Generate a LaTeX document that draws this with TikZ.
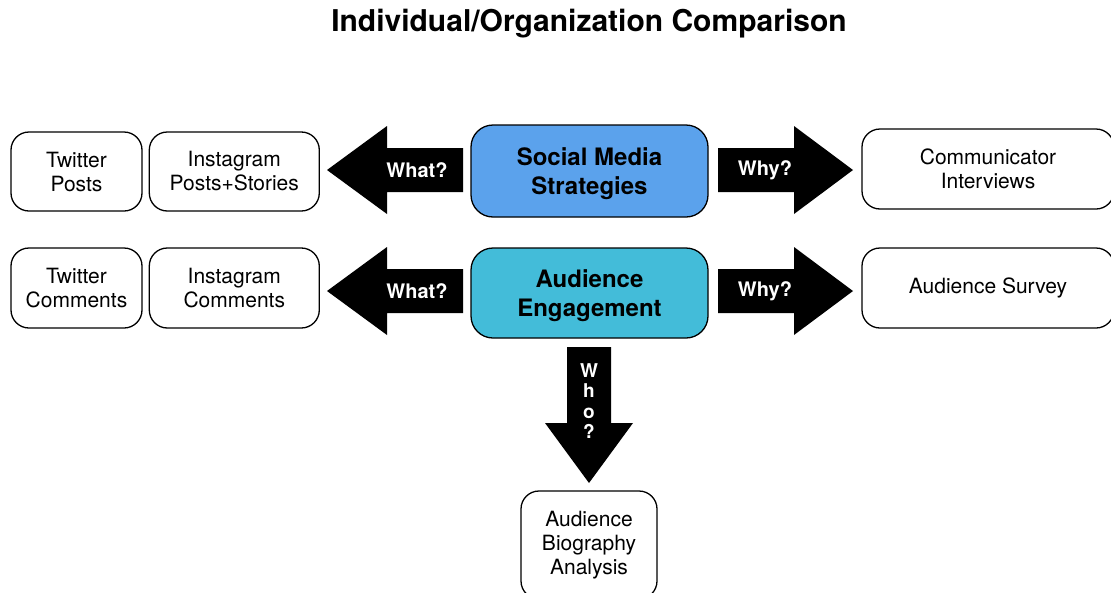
\documentclass[tikz,border=0pt]{standalone}
\usepackage{fontspec}
\setmainfont{TeX Gyre Heros}
\usetikzlibrary{positioning}
\definecolor{strategyblue}{RGB}{91,162,236}
\definecolor{engagecyan}{RGB}{67,188,217}
\tikzset{
    source/.style = {rectangle, rounded corners=18pt, draw, line width=1.3pt, align=center, inner sep=0pt, font=\fontsize{21}{24}\selectfont},
    hub/.style = {source, rounded corners=22pt, minimum width=237pt, text height=53pt, font=\fontsize{24}{29}\selectfont\bfseries},
    question/.style = {text=white, inner sep=0pt, font=\fontsize{20}{21}\selectfont\bfseries},
    blockarrow/.style = {fill=black}}

\begin{document}
\begin{tikzpicture}[x=1pt, y=-1pt]
    \useasboundingbox (0,0) rectangle (1111,592);
    \node (title) at (589,24) {\fontsize{30}{36}\selectfont\bfseries Individual/Organization Comparison};

    % the two topics in the middle
    \node[hub, fill=strategyblue, minimum height=92pt] (SMS) at (589.5,171) {Social Media\\Strategies};
    \node[hub, fill=engagecyan, minimum height=90pt] (AE) at (589.5,293) {Audience\\Engagement};

    % data sources
    \node[source, minimum width=131pt, minimum height=79pt] (TP) at (76.5,171.5) {Twitter\\Posts};
    \node[source, minimum width=170pt, minimum height=79pt, right=6pt of TP] (IP) {Instagram\\Posts+Stories};
    \node[source, minimum width=131pt, minimum height=80pt] (TC) at (76.5,288) {Twitter\\Comments};
    \node[source, minimum width=170pt, minimum height=80pt, right=6pt of TC] (IC) {Instagram\\Comments};
    \node[source, minimum width=252pt, minimum height=80pt] (CI) at (988,169) {Communicator\\Interviews};
    \node[source, minimum width=252pt, minimum height=80pt] (AS) at (988,288) {Audience Survey};
    \node[source, minimum width=136pt, minimum height=108pt] (ABA) at (589,545) {Audience\\Biography\\Analysis};

    % block arrows left and right of each topic
    \foreach \c in {170,291} {
        \fill[blockarrow] (327,\c) -- (387,\c-44) -- (387,\c-22) -- (463,\c-22)
            -- (463,\c+22) -- (387,\c+22) -- (387,\c+44) -- cycle;
        \fill[blockarrow] (853,\c) -- (794,\c-44) -- (794,\c-22) -- (718,\c-22)
            -- (718,\c+22) -- (794,\c+22) -- (794,\c+44) -- cycle;
        \node[question] (what\c) at (417,\c) {What?};
        \node[question] (why\c) at (765,\c) {Why?};
    }

    % downward arrow
    \fill[blockarrow] (589,483) -- (545,423) -- (567,423) -- (567,347)
        -- (611,347) -- (611,423) -- (633,423) -- cycle;
    \node[question, align=center, font=\fontsize{19}{20.5}\selectfont\bfseries] (who) at (589,401) {W\\h\\o\\?};
\end{tikzpicture}
\end{document}
